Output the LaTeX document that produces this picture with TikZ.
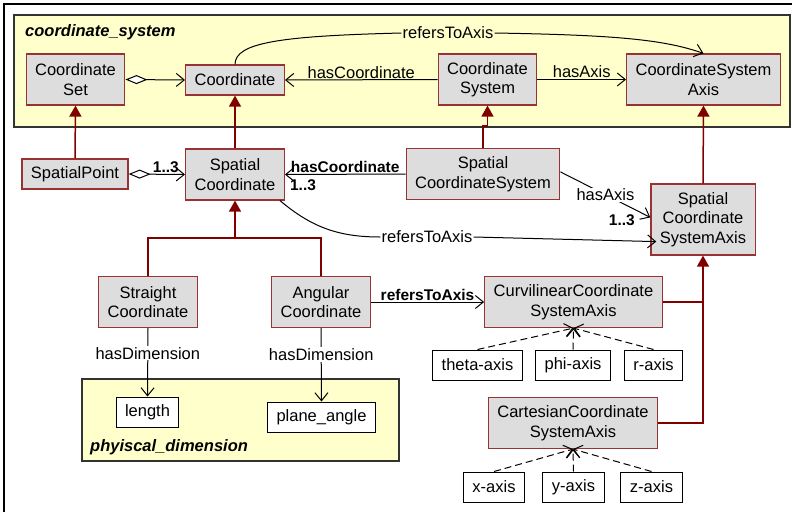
\documentclass[tikz,border=0pt]{standalone}
\usepackage{fontspec}
\setmainfont{Liberation Sans}
\usepackage{xcolor}
\usepackage{tikz}
\usetikzlibrary{arrows.meta,calc}
\definecolor{boxgray}{RGB}{221,221,221}
\definecolor{boxred}{RGB}{153,51,51}
\definecolor{genred}{RGB}{128,0,0}
\definecolor{pkgyellow}{RGB}{255,255,204}

\begin{document}
\begin{tikzpicture}[x=1pt, y=-1pt, font=\fontsize{16.5}{19.5}\selectfont,
  cls/.style={draw=boxred, line width=1.2pt, fill=boxgray, align=center, inner xsep=9pt, inner ysep=2pt, minimum height=30pt},
  two/.style={minimum height=51pt},
  three/.style={minimum height=71pt},
  inst/.style={draw, line width=1pt, fill=white, inner xsep=9pt, inner ysep=2pt, minimum height=30pt},
  pkg/.style={draw=black!80, line width=1.3pt, fill=pkgyellow},
  gen/.style={draw=genred, line width=1.5pt, -{Triangle[length=11pt,width=12pt]}},
  genline/.style={draw=genred, line width=1.5pt},
  assoc/.style={line width=1pt, -{Straight Barb[length=8pt,width=13pt]}},
  aggr/.style={line width=1pt, {Diamond[open,fill=white,length=22pt,width=9pt]}-{Straight Barb[length=8pt,width=13pt]}},
  dep/.style={line width=1pt, dash pattern=on 7pt off 4pt, -{Straight Barb[length=8pt,width=13pt]}},
  lbl/.style={inner sep=1pt},
  mult/.style={font=\fontsize{15.5}{18}\selectfont\bfseries, inner sep=1pt},
  ptitle/.style={font=\fontsize{16.5}{19.5}\selectfont\bfseries\itshape, anchor=west, inner sep=0pt}]
  \useasboundingbox (0,0) rectangle (792,512);
  \draw[line width=1.2pt] (4,512) -- (4,4) -- (792,4);
  \draw[pkg] (14,15) rectangle (790,127);
  \draw[pkg] (82,379) rectangle (399,461);
  \node[ptitle] (cstitle) at (25,32) {coordinate\_system};
  \node[ptitle] (pdtitle) at (90,447) {phyiscal\_dimension};

  \node[cls,two] (cset) at (75.5,79.5) {Coordinate\\Set};
  \node[cls] (coord) at (235,80) {Coordinate};
  \node[cls,two] (csys) at (487.5,79.5) {Coordinate\\System};
  \node[cls,two] (csaxis) at (703.5,79.5) {CoordinateSystem\\Axis};
  \node[cls] (spoint) at (75,174) {SpatialPoint};
  \node[cls,two] (scoord) at (235,174.5) {Spatial\\Coordinate};
  \node[cls,two] (scsys) at (483,174) {Spatial\\CoordinateSystem};
  \node[cls,three] (scaxis) at (703,219.5) {Spatial\\Coordinate\\SystemAxis};
  \node[cls,two] (straight) at (148,302) {Straight\\Coordinate};
  \node[cls,two] (angular) at (321,302) {Angular\\Coordinate};
  \node[cls,two] (curvi) at (573.5,302) {CurvilinearCoordinate\\SystemAxis};
  \node[cls,two] (cart) at (573,423) {CartesianCoordinate\\SystemAxis};
  \node[inst] (theta) at (477.5,365) {theta-axis};
  \node[inst] (phi) at (573,365) {phi-axis};
  \node[inst] (raxis) at (653.5,365) {r-axis};
  \node[inst] (xaxis) at (494,487) {x-axis};
  \node[inst] (yaxis) at (573.5,487) {y-axis};
  \node[inst] (zaxis) at (651.5,487) {z-axis};
  \node[inst] (length) at (147.5,412) {length};
  \node[inst] (plane) at (321.5,417) {plane\_angle};

  \draw[aggr] (cset.east) -- (coord.west);
  \draw[assoc] (csys.west) -- node[lbl,above]{hasCoordinate} (coord.east);
  \draw[assoc] (csys.east) -- node[lbl,above]{hasAxis} (csaxis.west);
  \node[lbl,fill=pkgyellow] (rta1) at (448,33) {refersToAxis};
  \draw[line width=1pt] (coord.north) .. controls +(0,-22) and +(-120,3) .. (rta1.west);
  \draw[assoc] (rta1.east) .. controls +(120,2) and +(-40,-14) .. (csaxis.north);

  \draw[aggr] (spoint.east) -- node[mult,pos=.66,above]{1..3} (scoord.west);
  \draw[assoc] (scsys.west) -- node[mult,above]{hasCoordinate} node[mult,pos=.85,below=4pt]{1..3} (scoord.east);
  \draw[assoc] ($(scsys.north east)+(0,24)$) -- node[lbl,fill=white]{hasAxis}
    node[mult,pos=1,anchor=north east,xshift=-14pt,yshift=4pt]{1..3} ($(scaxis.north west)+(0,34)$);
  \node[lbl,fill=white] (rta2) at (427,237) {refersToAxis};
  \draw[line width=1pt] ($(scoord.south east)+(-5,0)$) to[out=-40,in=180] (rta2.west);
  \draw[assoc] (rta2.east) -- ($(scaxis.south west)+(6,-14)$);

  \draw[gen] (spoint.north) -- (cset.south);
  \draw[gen] (scoord.north) -- (coord.south);
  \draw[gen] (scsys.north) -- ++(0,-22) -| (csys.south);
  \draw[gen] (scaxis.north) -- (csaxis.south);
  \coordinate (sjoin) at (235,238);
  \draw[genline] (straight.north) |- (sjoin) -| (angular.north);
  \draw[gen] (sjoin) -- (scoord.south);
  \coordinate (ajoin) at (703,302);
  \draw[genline] (curvi.east) -- (ajoin);
  \draw[genline] (cart.east) -| (ajoin);
  \draw[gen] (ajoin) -- (scaxis.south);

  \draw[assoc] (angular.east) -- node[mult,above]{refersToAxis} (curvi.west);
  \draw[dep] (theta.north) -- (curvi.south);
  \draw[dep] (phi.north) -- (curvi.south);
  \draw[dep] (raxis.north) -- (curvi.south);
  \draw[dep] (xaxis.north) -- (cart.south);
  \draw[dep] (yaxis.north) -- (cart.south);
  \draw[dep] (zaxis.north) -- (cart.south);

  \draw[assoc] (straight.south) -- node[lbl,fill=white,pos=.37]{hasDimension} (length.north);
  \draw[assoc] (angular.south) -- node[lbl,fill=white,pos=.36]{hasDimension} (plane.north);
\end{tikzpicture}
\end{document}
